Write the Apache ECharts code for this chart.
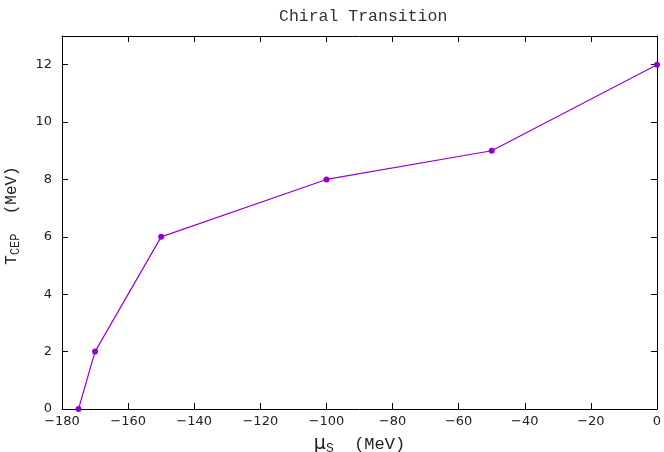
<!DOCTYPE html>
<html><head><meta charset="utf-8">
<script src="https://cdn.jsdelivr.net/npm/echarts@6/dist/echarts.min.js"></script>
<style>html,body{margin:0;padding:0;background:#fff}#c{width:664px;height:452px}</style>
</head><body><div id="c"></div>
<script>
const muS = [-175, -170, -150, -100, -50, 0];
const Tcep = [0, 2, 6, 8, 9, 12];
const xTicks = [-180, -160, -140, -120, -100, -80, -60, -40, -20, 0];
const yTicks = [0, 2, 4, 6, 8, 10, 12];
const titleText = 'Chiral Transition';

const color = '#9400d3';
const lblFont = 'DejaVu Sans';
const monoFont = 'Liberation Mono';
const chart = echarts.init(document.getElementById('c'));
const fmtX = v => xTicks.includes(v) ? String(v).replace('-', '\u2212') : '';
const fmtY = v => yTicks.includes(v) ? String(v) : '';
const axisCommon = {
  axisLine: {show: true, onZero: false, lineStyle: {color: '#000', width: 1}},
  axisTick: {show: true, inside: true, length: 6, lineStyle: {color: '#000'}},
  splitLine: {show: false}
};
chart.setOption({
  animation: false,
  backgroundColor: '#fff',
  title: {text: titleText, left: 274, top: 3,
    textStyle: {fontFamily: monoFont, fontSize: 16.5, fontWeight: 'normal', color: '#333'}},
  grid: {left: 62, right: 7, top: 36, bottom: 43, containLabel: false, outerBoundsMode: 'none'},
  xAxis: [
    Object.assign({type: 'value', min: -180, max: 0, interval: 20, position: 'bottom',
      name: '{mu|\u03bc}{sub|S}  (MeV)', nameLocation: 'middle', nameGap: 24,
      nameTextStyle: {fontFamily: monoFont, fontSize: 17, color: '#222',
        rich: {mu: {fontFamily: lblFont, fontSize: 19, color: '#222'},
               sub: {fontFamily: monoFont, fontSize: 13, color: '#222', verticalAlign: 'bottom', padding: [9, 0, 0, 0]}}},
      axisLabel: {formatter: fmtX, fontFamily: lblFont, fontSize: 13, color: '#222', margin: 6}}, axisCommon),
    Object.assign({type: 'value', min: -180, max: 0, interval: 20, position: 'top',
      axisLabel: {show: false}}, axisCommon)
  ],
  yAxis: [
    Object.assign({type: 'value', min: 0, max: 13, interval: 2, position: 'left',
      name: 'T{sub|CEP}  (MeV)', nameLocation: 'middle', nameGap: 40, nameRotate: 90,
      nameTextStyle: {fontFamily: monoFont, fontSize: 16, color: '#222', padding: [0, 0, 0, 14],
        rich: {sub: {fontFamily: monoFont, fontSize: 12, color: '#222', verticalAlign: 'bottom', padding: [8, 0, 0, 0]}}},
      axisLabel: {formatter: fmtY, fontFamily: lblFont, fontSize: 13, color: '#222', margin: 10}}, axisCommon),
    Object.assign({type: 'value', min: 0, max: 13, interval: 2, position: 'right',
      axisLabel: {show: false}}, axisCommon)
  ],
  series: [{
    type: 'line',
    data: muS.map((x, i) => [x, Tcep[i]]),
    symbol: 'circle', symbolSize: 6,
    lineStyle: {color: color, width: 1.2},
    itemStyle: {color: color},
    clip: false
  }]
});
</script></body></html>
